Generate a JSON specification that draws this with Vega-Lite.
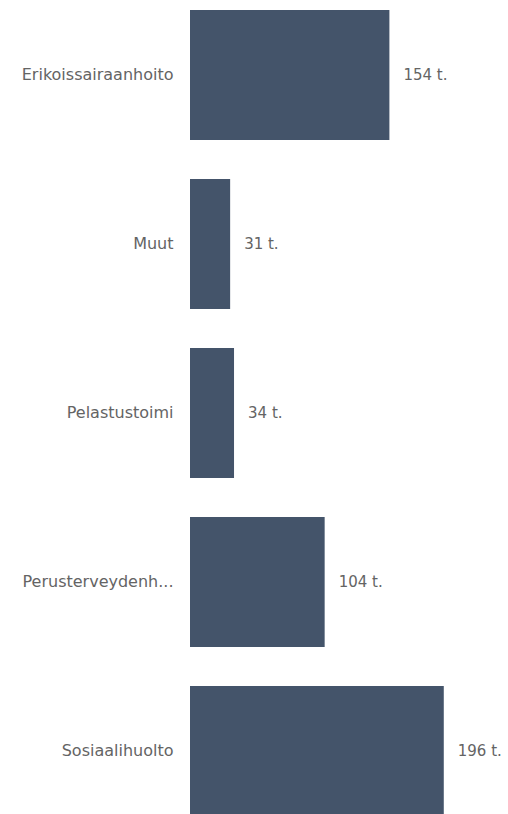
{
  "$schema": "https://vega.github.io/schema/vega-lite/v6.json",
  "width": 318,
  "height": 806,
  "autosize": {"type": "none"},
  "padding": {"left": 190, "top": 10, "right": 0, "bottom": 0},
  "background": "white",
  "config": {"view": {"stroke": null}, "font": "DejaVu Sans"},
  "data": {"values": [
    {"category": "Erikoissairaanhoito", "value": 154, "label": "154 t."},
    {"category": "Muut", "value": 31, "label": "31 t."},
    {"category": "Pelastustoimi", "value": 34, "label": "34 t."},
    {"category": "Perusterveydenhuolto", "value": 104, "label": "104 t."},
    {"category": "Sosiaalihuolto", "value": 196, "label": "196 t."}
  ]},
  "encoding": {
    "y": {"field": "category", "type": "nominal", "sort": null,
      "scale": {"paddingInner": 0.23, "paddingOuter": 0},
      "axis": {"title": null, "domain": false, "ticks": false, "labelPadding": 17, "labelFontSize": 16, "labelColor": "#646464", "labelLimit": 200, "labelFont": "DejaVu Sans",
        "labelExpr": "datum.label == 'Perusterveydenhuolto' ? 'Perusterveydenh...' : datum.label"}},
    "x": {"field": "value", "type": "quantitative", "scale": {"domain": [0, 245.6], "nice": false}, "axis": null}
  },
  "layer": [
    {"mark": {"type": "bar", "color": "#44546a"}},
    {"mark": {"type": "text", "align": "left", "dx": 14, "fontSize": 15, "color": "#646464", "font": "DejaVu Sans"},
     "encoding": {"text": {"field": "label"}}}
  ]
}
